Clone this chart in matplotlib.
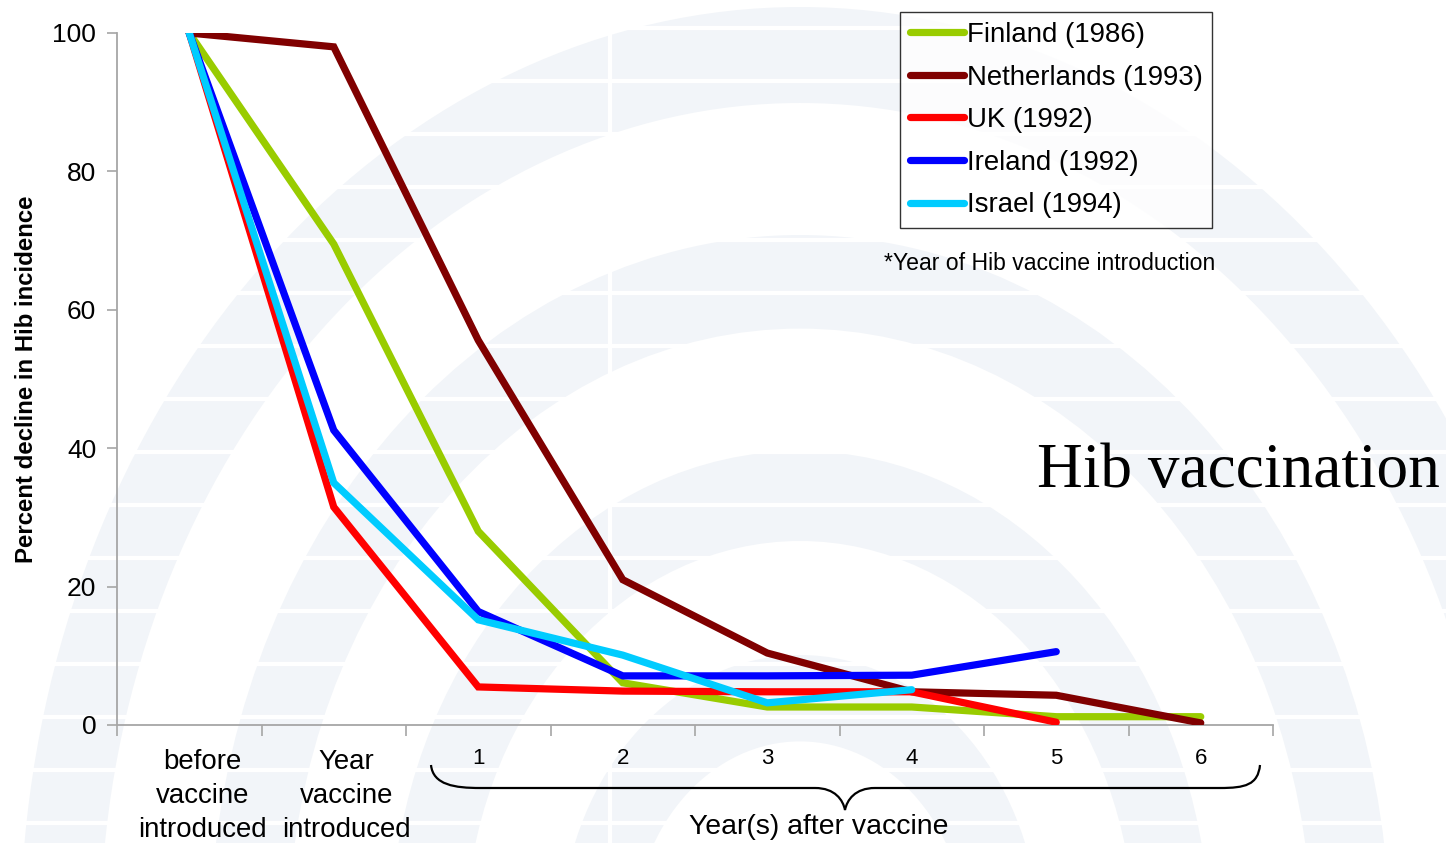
import matplotlib
matplotlib.use("Agg")
import matplotlib.pyplot as plt
from matplotlib.patches import Wedge, PathPatch
from matplotlib.path import Path

# ---------------- data ----------------
categories = ["before\nvaccine\nintroduced", "Year\nvaccine\nintroduced",
              "1", "2", "3", "4", "5", "6"]
finland = [100, 69.5, 28.0, 6.1, 2.6, 2.6, 1.2, 1.2]
netherlands = [100, 98.0, 55.6, 21.0, 10.4, 4.8, 4.3, 0.3]
uk = [100, 31.5, 5.5, 4.9, 4.8, 4.8, 0.4]
ireland = [100, 42.6, 16.4, 7.1, 7.1, 7.2, 10.6]
israel = [100, 35.0, 15.2, 10.1, 3.2, 5.1]
series_names = ["Finland (1986)", "Netherlands (1993)", "UK (1992)",
                "Ireland (1992)", "Israel (1994)"]
series_values = [finland, netherlands, uk, ireland, israel]
series_colors = ["#99cc00", "#800000", "#ff0000", "#0000ff", "#00ccff"]
y_ticks = [0, 20, 40, 60, 80, 100]

W, H = 1446, 843
fig = plt.figure(figsize=(W / 100, H / 100), dpi=100)
plt.rcParams['font.family'] = ['Liberation Sans', 'DejaVu Sans']

# ---------------- faint watermark background ----------------
k = 1.2  # vertical stretch of the arcs
bg = fig.add_axes([0, 0, 1, 1], zorder=0)
bg.set_xlim(0, W)
bg.set_ylim(0, H / k)
bg.axis("off")
wm = "#f2f5f9"
cx, cy = 800, -100 / k
for r_out, width in [(780, 80), (590, 78), (410, 75), (240, 72)]:
    bg.add_patch(Wedge((cx, cy), r_out, 5, 175, width=width, facecolor=wm,
                       edgecolor="none"))
for yy in range(20, H, 53):
    bg.axhline(yy / k, color="white", lw=3)
bg.axvline(610, color="white", lw=3)

# overlay axes in pixel coordinates for the brace
ov = fig.add_axes([0, 0, 1, 1], zorder=1)
ov.set_xlim(0, W)
ov.set_ylim(0, H)
ov.axis("off")

# ---------------- main axes ----------------
ax = fig.add_axes([117 / W, 1 - 725 / H, (1273 - 117) / W, (725 - 33) / H], zorder=2)
ax.patch.set_alpha(0)
handles = []
for name, vals, col in zip(series_names, series_values, series_colors):
    (ln,) = ax.plot(range(len(vals)), vals, color=col, lw=5.2,
                    solid_capstyle="round", solid_joinstyle="miter", label=name)
    handles.append(ln)

ax.set_xlim(-0.5, len(categories) - 0.5)
ax.set_ylim(0, 100)
for s in ["top", "right"]:
    ax.spines[s].set_visible(False)
for s in ["left", "bottom"]:
    ax.spines[s].set_color("#a6a6a6")
    ax.spines[s].set_linewidth(1.3)
    ax.spines[s].set_zorder(0.5)

ax.set_yticks(y_ticks)
ax.set_yticklabels([str(v) for v in y_ticks], fontsize=19)
ax.tick_params(axis="y", direction="out", length=7, width=1.2, color="#a6a6a6", pad=8)

ax.set_xticks([i - 0.5 for i in range(len(categories) + 1)])
ax.set_xticklabels([])
ax.tick_params(axis="x", direction="out", length=8, width=1.2, color="#a6a6a6")

# category labels (pixel rows converted through the axes transform)
px_per_unit = (725 - 33) / 100.0
for i, lab in enumerate(categories):
    if i < 2:
        for j, line in enumerate(lab.split("\n")):
            yrow = 762 + 34 * j
            ax.text(i + 0.09, -(yrow - 725) / px_per_unit, line, ha="center",
                    va="center", fontsize=19.9, clip_on=False)
    else:
        ax.text(i, -(758 - 725) / px_per_unit, lab, ha="center", va="center",
                fontsize=16, clip_on=False)

ax.set_ylabel("Percent decline in Hib incidence", fontsize=17.3, fontweight="bold",
              labelpad=10)

# ---------------- legend ----------------
leg = fig.legend(handles=handles, loc="upper left",
                 bbox_to_anchor=(900 / W, 1 - 12 / H), fontsize=19.9,
                 frameon=True, fancybox=False, edgecolor="black",
                 handlelength=1.95, handletextpad=0.1, labelspacing=0.6,
                 borderpad=0.36, borderaxespad=0.0)
leg.get_frame().set_linewidth(1.0)
leg.set_zorder(5)

fig.text(884 / W, 1 - 264 / H, "*Year of Hib vaccine introduction",
         fontsize=16.6, ha="left", va="center")
fig.text(1037 / W, 1 - 472 / H, "Hib vaccination", fontsize=45.5,
         family="Liberation Serif", ha="left", va="center")
fig.text(819 / W, 1 - 827 / H, "Year(s) after vaccine", fontsize=20.4,
         ha="center", va="center")

# ---------------- curly brace ----------------
def P(x, y):
    return (x, H - y)

verts = [P(431, 765), P(433, 785), P(455, 788), P(480, 788),
         P(815, 788),
         P(835, 788), P(843, 800), P(845, 810),
         P(847, 800), P(855, 788), P(875, 788),
         P(1220, 788),
         P(1245, 788), P(1258, 785), P(1260, 765)]
codes = [Path.MOVETO, Path.CURVE4, Path.CURVE4, Path.CURVE4,
         Path.LINETO,
         Path.CURVE4, Path.CURVE4, Path.CURVE4,
         Path.CURVE4, Path.CURVE4, Path.CURVE4,
         Path.LINETO,
         Path.CURVE4, Path.CURVE4, Path.CURVE4]
ov.add_patch(PathPatch(Path(verts, codes), facecolor="none", edgecolor="black",
                       lw=1.6))

fig.savefig("out.png", dpi=100)
